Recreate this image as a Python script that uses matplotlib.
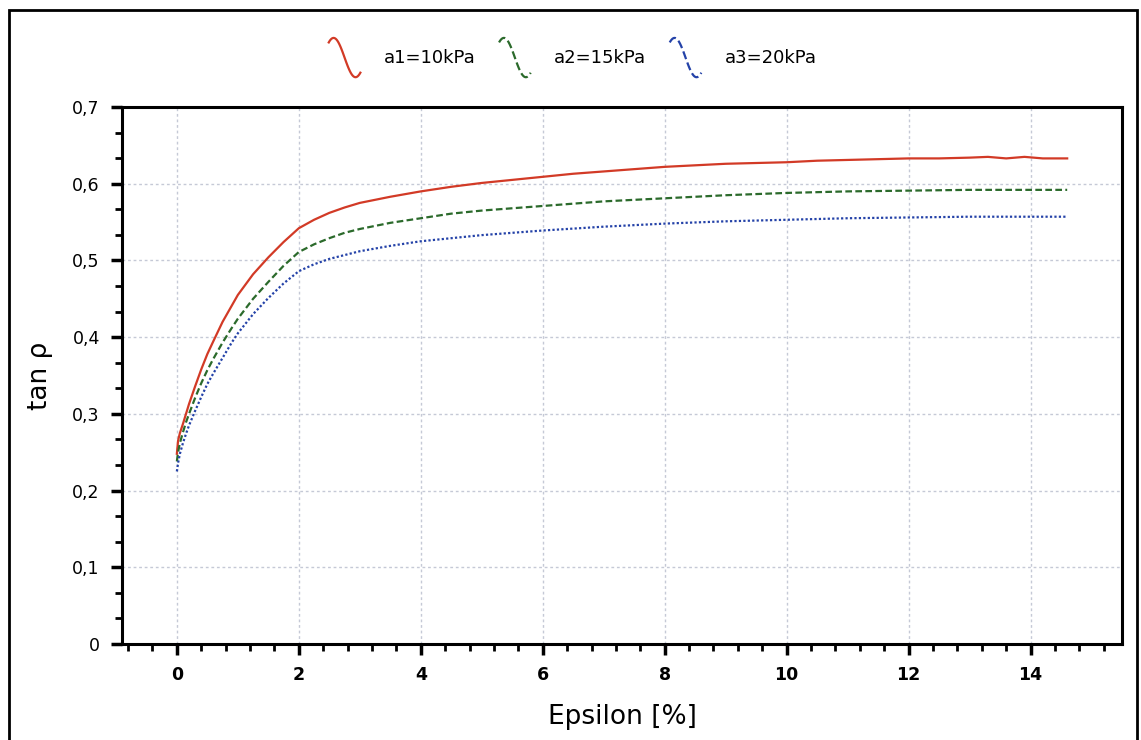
import numpy as np
import matplotlib
matplotlib.use('Agg')
import matplotlib.pyplot as plt
from matplotlib.lines import Line2D
from matplotlib.legend_handler import HandlerLine2D
from matplotlib.ticker import MultipleLocator, FuncFormatter
from matplotlib.patches import Rectangle

# curves
eps_a1 = [0.0, 0.02, 0.05, 0.1, 0.15, 0.2, 0.3, 0.4, 0.5, 0.6, 0.75, 0.9, 1.0, 1.25, 1.5,
          1.75, 2.0, 2.25, 2.5, 2.75, 3.0, 3.5, 4.0, 4.5, 5.0, 5.5, 6.0, 6.5, 7.0, 7.5, 8.0,
          8.5, 9.0, 9.5, 10.0, 10.5, 11.0, 11.5, 12.0, 12.5, 13.0, 13.3, 13.6, 13.9, 14.2, 14.6]
tan_a1 = [0.248, 0.265, 0.275, 0.287, 0.300, 0.313, 0.336, 0.358, 0.378, 0.395, 0.420, 0.441,
          0.455, 0.482, 0.504, 0.524, 0.542, 0.553, 0.562, 0.569, 0.575, 0.583, 0.590, 0.596,
          0.601, 0.605, 0.609, 0.613, 0.616, 0.619, 0.622, 0.624, 0.626, 0.627, 0.628, 0.630,
          0.631, 0.632, 0.633, 0.633, 0.634, 0.635, 0.633, 0.635, 0.633, 0.633]

eps_a2 = [0.0, 0.02, 0.05, 0.1, 0.15, 0.2, 0.3, 0.4, 0.5, 0.6, 0.75, 0.9, 1.0, 1.25, 1.5,
          1.75, 2.0, 2.25, 2.5, 2.75, 3.0, 3.5, 4.0, 4.5, 5.0, 5.5, 6.0, 7.0, 8.0, 9.0, 10.0,
          11.0, 12.0, 13.0, 14.6]
tan_a2 = [0.238, 0.250, 0.262, 0.276, 0.289, 0.300, 0.321, 0.340, 0.357, 0.372, 0.393, 0.412,
          0.424, 0.450, 0.472, 0.493, 0.511, 0.521, 0.529, 0.536, 0.541, 0.549, 0.555, 0.561,
          0.565, 0.568, 0.571, 0.577, 0.581, 0.585, 0.588, 0.590, 0.591, 0.592, 0.592]

eps_a3 = [0.0, 0.02, 0.05, 0.1, 0.15, 0.2, 0.3, 0.4, 0.5, 0.6, 0.75, 0.9, 1.0, 1.25, 1.5,
          1.75, 2.0, 2.25, 2.5, 2.75, 3.0, 3.5, 4.0, 4.5, 5.0, 5.5, 6.0, 7.0, 8.0, 9.0, 10.0,
          11.0, 12.0, 13.0, 14.6]
tan_a3 = [0.225, 0.236, 0.248, 0.262, 0.274, 0.285, 0.304, 0.322, 0.339, 0.353, 0.373, 0.393,
          0.405, 0.430, 0.451, 0.470, 0.486, 0.495, 0.502, 0.507, 0.512, 0.519, 0.525, 0.529,
          0.533, 0.536, 0.539, 0.544, 0.548, 0.551, 0.553, 0.555, 0.556, 0.557, 0.557]

labels = ['a1=10kPa', 'a2=15kPa', 'a3=20kPa']


# legend icon: little S-shaped curve (hook up at the start, hook at the end)
class CurvyHandler(HandlerLine2D):
    def create_artists(self, legend, orig_handle, xdescent, ydescent, width, height, fontsize, trans):
        t = np.linspace(-0.22, 1.22, 80)
        xs = -xdescent + width * (t + 0.22) / 1.44
        ys = -ydescent + height * (0.5 + 0.5 * np.cos(np.pi * t)) * 1.25 - height * 0.12
        line = Line2D(xs, ys, color=orig_handle.get_color(), linestyle=orig_handle.get_linestyle(),
                      linewidth=orig_handle.get_linewidth())
        line.set_transform(trans)
        return [line]


fig = plt.figure(figsize=(11.41, 7.40), dpi=100)
ax = fig.add_axes([0.1069, 0.1297, 0.9834 - 0.1069, 0.8554 - 0.1297])

l1, = ax.plot(eps_a1, tan_a1, color='#d23a26', lw=1.6, ls='-')
l2, = ax.plot(eps_a2, tan_a2, color='#2b6a2b', lw=1.6, ls=(0, (3, 1.5)))
l3, = ax.plot(eps_a3, tan_a3, color='#2442a8', lw=1.6, ls=(0, (1, 1)))

ax.set_xlim(-0.9, 15.5)
ax.set_ylim(0, 0.7)
ax.xaxis.set_major_locator(MultipleLocator(2))
ax.xaxis.set_minor_locator(MultipleLocator(0.4))
ax.yaxis.set_major_locator(MultipleLocator(0.1))
ax.yaxis.set_minor_locator(MultipleLocator(0.1 / 3))
ax.yaxis.set_major_formatter(FuncFormatter(lambda v, p: ('%.1f' % v).replace('.', ',') if v > 0.01 else '0'))
ax.xaxis.set_major_formatter(FuncFormatter(lambda v, p: '%d' % round(v)))

ax.tick_params(which='major', direction='out', length=8, width=2.5, labelsize=12.5, pad=8)
ax.tick_params(which='minor', direction='out', length=5, width=2)
for lab in ax.get_xticklabels():
    lab.set_fontweight('bold')

ax.grid(True, which='major', color='#c5c9d6', linestyle=(0, (2, 2)), linewidth=1)
for sp in ax.spines.values():
    sp.set_linewidth(2.2)
    sp.set_color('black')

ax.set_xlabel('Epsilon [%]', fontsize=19, labelpad=14)
ax.set_ylabel('tan ρ', fontsize=19, labelpad=14)

fig.legend([l1, l2, l3], labels, loc='center', bbox_to_anchor=(0.502, 0.922), ncol=3,
           frameon=False, fontsize=13, handler_map={Line2D: CurvyHandler()},
           handlelength=1.75, handleheight=2.3, columnspacing=1.3, handletextpad=1.3)

# outer frame from the scanned page
fig.patches.append(Rectangle((9 / 1141, -0.05), (1137 - 9) / 1141, 1.05 - 10 / 740,
                             transform=fig.transFigure, fill=False, edgecolor='black', lw=2))

fig.savefig('out.png', dpi=100)
